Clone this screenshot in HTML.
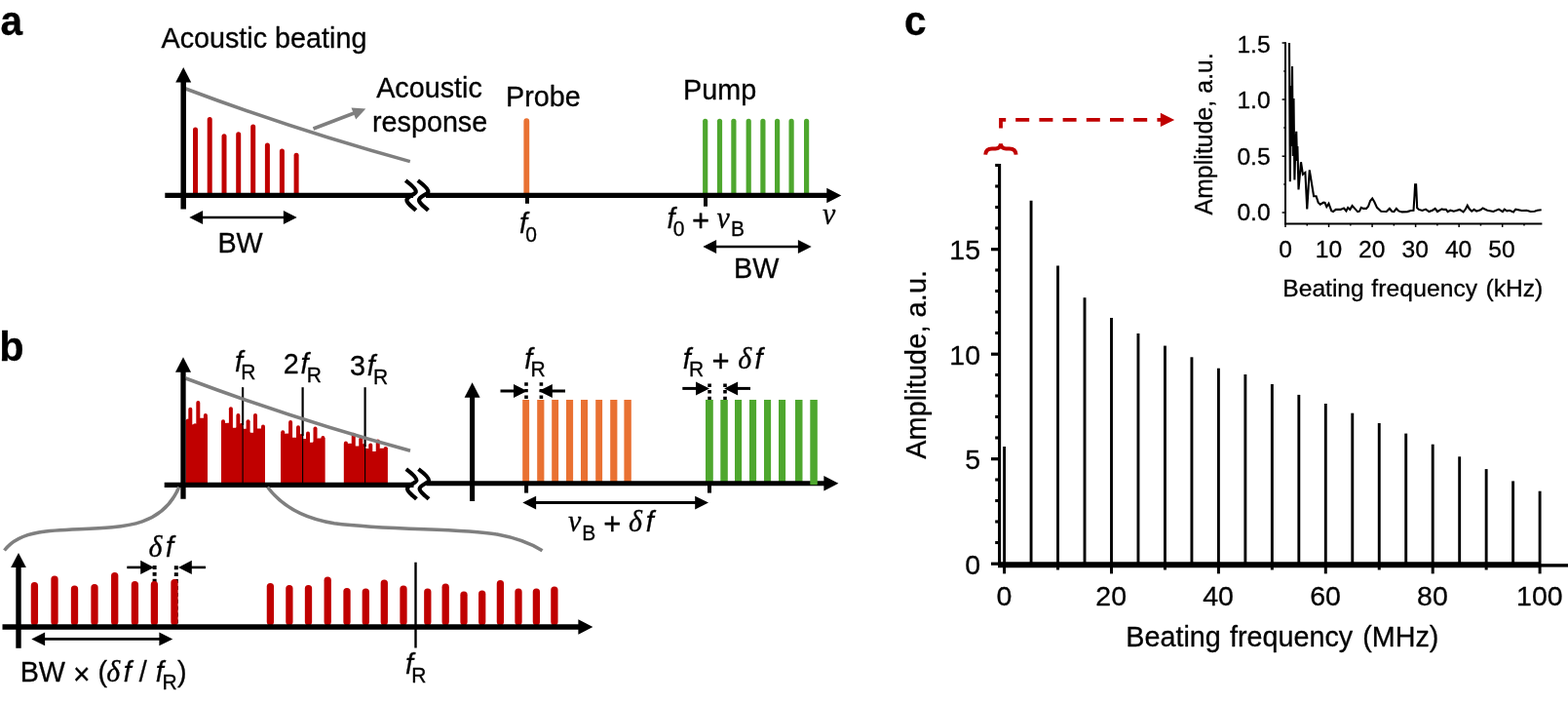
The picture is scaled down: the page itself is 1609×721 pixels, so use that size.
<!DOCTYPE html>
<html lang="en"><head><meta charset="utf-8"><title>Figure</title>
<style>html,body{margin:0;padding:0;background:#fff}body{width:1609px;height:721px;overflow:hidden}svg{display:block}text{font-family:'Liberation Sans', sans-serif;fill:#000;stroke:#000;stroke-width:.3px;stroke-linejoin:round}.s{font-family:'Liberation Serif', serif;font-style:italic}.i{font-style:italic}</style>
</head><body>
<svg width="1609" height="721" viewBox="0 0 1609 721">
<rect width="1609" height="721" fill="#fff"/>
<g id="panel-a">
<text transform="translate(0.5 36.3) scale(1 1.03)" font-size="40.5" text-anchor="start" font-weight="bold">a</text>
<text transform="translate(165.5 49) scale(1 1.03)" font-size="28.75" text-anchor="start" font-weight="normal">Acoustic beating</text>
<path d="M198 199V133.1A2.5 2.5 0 0 1 203 133.1V199Z" fill="#C00000"/>
<path d="M212.7 199V122.4A2.5 2.5 0 0 1 217.7 122.4V199Z" fill="#C00000"/>
<path d="M227.5 199V139.8A2.5 2.5 0 0 1 232.5 139.8V199Z" fill="#C00000"/>
<path d="M242.2 199V137.8A2.5 2.5 0 0 1 247.2 137.8V199Z" fill="#C00000"/>
<path d="M257.2 199V130.1A2.5 2.5 0 0 1 262.2 130.1V199Z" fill="#C00000"/>
<path d="M271.9 199V149.1A2.5 2.5 0 0 1 276.9 149.1V199Z" fill="#C00000"/>
<path d="M286.9 199V155A2.5 2.5 0 0 1 291.9 155V199Z" fill="#C00000"/>
<path d="M301.6 199V159.2A2.5 2.5 0 0 1 306.6 159.2V199Z" fill="#C00000"/>
<path d="M537.4 199V124.2A2.9 2.9 0 0 1 543.2 124.2V199Z" fill="#E97132"/>
<path d="M721.1 199V124.3A2.6 2.6 0 0 1 726.3 124.3V199Z" fill="#4EA72E"/>
<path d="M735.9 199V124.3A2.6 2.6 0 0 1 741.1 124.3V199Z" fill="#4EA72E"/>
<path d="M750.3 199V124.3A2.6 2.6 0 0 1 755.5 124.3V199Z" fill="#4EA72E"/>
<path d="M765.6 199V124.3A2.6 2.6 0 0 1 770.8 124.3V199Z" fill="#4EA72E"/>
<path d="M780.3 199V124.3A2.6 2.6 0 0 1 785.5 124.3V199Z" fill="#4EA72E"/>
<path d="M795 199V124.3A2.6 2.6 0 0 1 800.2 124.3V199Z" fill="#4EA72E"/>
<path d="M809.5 199V124.3A2.6 2.6 0 0 1 814.7 124.3V199Z" fill="#4EA72E"/>
<path d="M825 199V124.3A2.6 2.6 0 0 1 830.2 124.3V199Z" fill="#4EA72E"/>
<path d="M190.5 91Q305.7 134.3 420.8 165.6" fill="none" stroke="#7F7F7F" stroke-width="3.5" stroke-linecap="butt" stroke-linejoin="round"/>
<line x1="321.5" y1="132" x2="366" y2="115" stroke="#7F7F7F" stroke-width="3.5" stroke-linecap="butt"/>
<polygon points="375.3,111.4 360.5,110.6 365.2,122.6" fill="#7F7F7F"/>
<line x1="169.3" y1="200.4" x2="424" y2="200.4" stroke="#000" stroke-width="5.3" stroke-linecap="butt"/>
<line x1="437" y1="200.4" x2="849.3" y2="200.4" stroke="#000" stroke-width="5.2" stroke-linecap="butt"/>
<polygon points="863.3,200.4 848.3,192.65 848.3,208.15" fill="#000"/>
<path d="M416.2 185.1C423.2 190.4 427.2 194.4 426.8 196.8C426.2 199.4 417.7 201.4 417.4 205C417.2 208.4 422.2 211.4 426.8 215.7" fill="none" stroke="#000" stroke-width="4.2" stroke-linecap="butt" stroke-linejoin="round"/>
<path d="M428.8 185.1C435.8 190.4 439.8 194.4 439.4 196.8C438.8 199.4 430.3 201.4 430 205C429.8 208.4 434.8 211.4 439.4 215.7" fill="none" stroke="#000" stroke-width="4.2" stroke-linecap="butt" stroke-linejoin="round"/>
<line x1="188.2" y1="83.5" x2="188.2" y2="214.5" stroke="#000" stroke-width="5.5" stroke-linecap="butt"/>
<polygon points="188.2,69 180.2,84.5 196.2,84.5" fill="#000"/>
<line x1="541" y1="200" x2="541" y2="208.8" stroke="#000" stroke-width="4" stroke-linecap="butt"/>
<line x1="724" y1="200" x2="724" y2="211.7" stroke="#000" stroke-width="4" stroke-linecap="butt"/>
<line x1="207.1" y1="223" x2="291.9" y2="223" stroke="#000" stroke-width="2.6" stroke-linecap="butt"/>
<polygon points="194.3,223 208.1,216.1 208.1,229.9" fill="#000"/>
<polygon points="304.7,223 290.9,216.1 290.9,229.9" fill="#000"/>
<text transform="translate(223.4 259) scale(1 1.03)" font-size="28.75" text-anchor="start" font-weight="normal">BW</text>
<line x1="734.1" y1="253" x2="819.9" y2="253" stroke="#000" stroke-width="2.6" stroke-linecap="butt"/>
<polygon points="721.3,253 735.1,246.1 735.1,259.9" fill="#000"/>
<polygon points="832.7,253 818.9,246.1 818.9,259.9" fill="#000"/>
<text transform="translate(753.1 284.5) scale(1 1.03)" font-size="28.75" text-anchor="start" font-weight="normal">BW</text>
<text transform="translate(386.2 100) scale(1 1.03)" font-size="28.75" text-anchor="start" font-weight="normal">Acoustic</text>
<text transform="translate(382 134.5) scale(1 1.03)" font-size="28.75" text-anchor="start" font-weight="normal">response</text>
<text transform="translate(519 109) scale(1 1.03)" font-size="28.75" text-anchor="start" font-weight="normal">Probe</text>
<text transform="translate(701.1 102) scale(1 1.03)" font-size="28.75" text-anchor="start" font-weight="normal">Pump</text>
<text transform="translate(533 239) scale(1 1.03)" font-size="28.75" text-anchor="start"><tspan font-style="italic" dx="0">f</tspan><tspan font-size="21" dy="8.3" dx="-1.8">0</tspan></text>
<text transform="translate(684.6 234) scale(1 1.03)" font-size="28.75"><tspan class="i">f</tspan><tspan font-size="21" dy="7.6" dx="-1.8">0</tspan><tspan dy="-5" dx="7.5" font-size="31">+</tspan><tspan class="s" dx="7.5" dy="-2.6" font-size="30">ν</tspan><tspan font-size="21" dy="7.6" dx="1">B</tspan></text>
<text transform="translate(844 229.8) scale(1 1.03)" font-size="30" class="s">ν</text>
</g>
<g id="panel-b">
<text transform="translate(-0.8 370) scale(1 1.03)" font-size="41.5" text-anchor="start" font-weight="bold">b</text>
<polygon points="190.6,497.3 190.6,431 194,431 196.5,435.6 201.5,435 205,428.8 209,428.8 212.9,428 212.9,497.3" fill="#C00000"/>
<path d="M190.8 497.3V431.4A2 2 0 0 1 194.8 431.4V497.3Z" fill="#C00000"/>
<path d="M193.3 497.3V419.8A2 2 0 0 1 197.3 419.8V497.3Z" fill="#C00000"/>
<path d="M198.1 497.3V436.2A2 2 0 0 1 202.1 436.2V497.3Z" fill="#C00000"/>
<path d="M201.3 497.3V413A2 2 0 0 1 205.3 413V497.3Z" fill="#C00000"/>
<path d="M208.9 497.3V426A2 2 0 0 1 212.9 426V497.3Z" fill="#C00000"/>
<polygon points="227,497.3 227,434 235,433.75 238.5,438.75 242,438.75 246,436 249,437 250,439.7 253,439.7 257,443.75 260,443.75 264,439.4 268.5,439.4 272,438 272,497.3" fill="#C00000"/>
<path d="M227 497.3V432.3A2 2 0 0 1 231 432.3V497.3Z" fill="#C00000"/>
<path d="M234.9 497.3V419.2A2 2 0 0 1 238.9 419.2V497.3Z" fill="#C00000"/>
<path d="M242.4 497.3V426A2 2 0 0 1 246.4 426V497.3Z" fill="#C00000"/>
<path d="M245.6 497.3V436A2 2 0 0 1 249.6 436V497.3Z" fill="#C00000"/>
<path d="M252.6 497.3V432.3A2 2 0 0 1 256.6 432.3V497.3Z" fill="#C00000"/>
<path d="M260 497.3V426A2 2 0 0 1 264 426V497.3Z" fill="#C00000"/>
<path d="M268 497.3V437.6A2 2 0 0 1 272 437.6V497.3Z" fill="#C00000"/>
<polygon points="288.2,497.3 288.2,445 296.2,444.4 300,448.75 304,448.75 308,447 311,450 314,450 318,453.75 321,453.75 325.6,449.4 329.4,449.4 333.4,449 333.4,497.3" fill="#C00000"/>
<path d="M288.2 497.3V443.2A2 2 0 0 1 292.2 443.2V497.3Z" fill="#C00000"/>
<path d="M296.1 497.3V433A2 2 0 0 1 300.1 433V497.3Z" fill="#C00000"/>
<path d="M304 497.3V438.25A2 2 0 0 1 308 438.25V497.3Z" fill="#C00000"/>
<path d="M307.2 497.3V447A2 2 0 0 1 311.2 447V497.3Z" fill="#C00000"/>
<path d="M314 497.3V444.5A2 2 0 0 1 318 444.5V497.3Z" fill="#C00000"/>
<path d="M321.5 497.3V439.5A2 2 0 0 1 325.5 439.5V497.3Z" fill="#C00000"/>
<path d="M329.4 497.3V448.9A2 2 0 0 1 333.4 448.9V497.3Z" fill="#C00000"/>
<polygon points="352.9,497.3 352.9,455 360.5,454.75 364.5,457.5 368,457.5 372,457 375.5,460 378,460 382,463.1 385.5,463.1 390,459.75 394,459.75 397.7,459 397.7,497.3" fill="#C00000"/>
<path d="M352.9 497.3V454.5A2 2 0 0 1 356.9 454.5V497.3Z" fill="#C00000"/>
<path d="M360.75 497.3V445.75A2 2 0 0 1 364.75 445.75V497.3Z" fill="#C00000"/>
<path d="M368.25 497.3V450.5A2 2 0 0 1 372.25 450.5V497.3Z" fill="#C00000"/>
<path d="M371.3 497.3V457A2 2 0 0 1 375.3 457V497.3Z" fill="#C00000"/>
<path d="M378.25 497.3V456.4A2 2 0 0 1 382.25 456.4V497.3Z" fill="#C00000"/>
<path d="M385.75 497.3V452.4A2 2 0 0 1 389.75 452.4V497.3Z" fill="#C00000"/>
<path d="M393.7 497.3V460.1A2 2 0 0 1 397.7 460.1V497.3Z" fill="#C00000"/>
<line x1="249.1" y1="397.2" x2="249.1" y2="436" stroke="#000" stroke-width="2.2" stroke-linecap="butt"/>
<line x1="249.1" y1="434" x2="249.1" y2="497.3" stroke="#000" stroke-width="1.1" stroke-linecap="butt"/>
<line x1="310.6" y1="397.2" x2="310.6" y2="447" stroke="#000" stroke-width="2.2" stroke-linecap="butt"/>
<line x1="310.6" y1="445" x2="310.6" y2="497.3" stroke="#000" stroke-width="1.1" stroke-linecap="butt"/>
<line x1="374.6" y1="397.2" x2="374.6" y2="458" stroke="#000" stroke-width="2.2" stroke-linecap="butt"/>
<line x1="374.6" y1="456" x2="374.6" y2="497.3" stroke="#000" stroke-width="1.1" stroke-linecap="butt"/>
<path d="M190.5 388Q305.7 431.2 421 462.2" fill="none" stroke="#7F7F7F" stroke-width="3.5" stroke-linecap="butt" stroke-linejoin="round"/>
<rect x="536.2" y="410" width="6.9" height="84" fill="#E97132"/>
<rect x="551.2" y="410" width="7.2" height="84" fill="#E97132"/>
<rect x="566.2" y="410" width="6.9" height="84" fill="#E97132"/>
<rect x="581" y="410" width="7.1" height="84" fill="#E97132"/>
<rect x="596" y="410" width="7.1" height="84" fill="#E97132"/>
<rect x="611.2" y="410" width="6.9" height="84" fill="#E97132"/>
<rect x="626.2" y="410" width="7.2" height="84" fill="#E97132"/>
<rect x="640.4" y="410" width="7.4" height="84" fill="#E97132"/>
<rect x="724" y="410" width="7.8" height="84" fill="#4EA72E"/>
<rect x="739.3" y="410" width="7.5" height="84" fill="#4EA72E"/>
<rect x="754" y="410" width="7.1" height="84" fill="#4EA72E"/>
<rect x="769" y="410" width="7.1" height="84" fill="#4EA72E"/>
<rect x="784" y="410" width="7.1" height="84" fill="#4EA72E"/>
<rect x="799" y="410" width="7.1" height="84" fill="#4EA72E"/>
<rect x="816" y="410" width="7.5" height="84" fill="#4EA72E"/>
<line x1="168.7" y1="497.3" x2="424.5" y2="497.3" stroke="#000" stroke-width="5.3" stroke-linecap="butt"/>
<line x1="437.5" y1="495.7" x2="846.4" y2="495.7" stroke="#000" stroke-width="5" stroke-linecap="butt"/>
<polygon points="860.4,495.7 845.4,487.95 845.4,503.45" fill="#000"/>
<rect x="831.3" y="410" width="7.5" height="87.2" fill="#4EA72E"/>
<path d="M416.8 481.2C423.8 486.5 427.8 490.5 427.4 492.9C426.8 495.5 418.3 497.5 418 501.1C417.8 504.5 422.8 507.5 427.4 511.8" fill="none" stroke="#000" stroke-width="4.2" stroke-linecap="butt" stroke-linejoin="round"/>
<path d="M429.4 481.2C436.4 486.5 440.4 490.5 440 492.9C439.4 495.5 430.9 497.5 430.6 501.1C430.4 504.5 435.4 507.5 440 511.8" fill="none" stroke="#000" stroke-width="4.2" stroke-linecap="butt" stroke-linejoin="round"/>
<line x1="188" y1="380.7" x2="188" y2="511.7" stroke="#000" stroke-width="5.3" stroke-linecap="butt"/>
<polygon points="188,366.2 180,381.7 196,381.7" fill="#000"/>
<line x1="484.6" y1="406.8" x2="484.6" y2="514" stroke="#000" stroke-width="5.1" stroke-linecap="butt"/>
<polygon points="484.6,392.3 476.6,407.8 492.6,407.8" fill="#000"/>
<line x1="540.1" y1="495" x2="540.1" y2="505.6" stroke="#000" stroke-width="4" stroke-linecap="butt"/>
<line x1="728" y1="495" x2="728" y2="505.6" stroke="#000" stroke-width="4" stroke-linecap="butt"/>
<line x1="540" y1="392.3" x2="540" y2="409.5" stroke="#000" stroke-width="3.6" stroke-linecap="butt" stroke-dasharray="3.4 3.2"/>
<line x1="555.4" y1="392.3" x2="555.4" y2="409.5" stroke="#000" stroke-width="3.6" stroke-linecap="butt" stroke-dasharray="3.4 3.2"/>
<line x1="513.5" y1="401" x2="528" y2="401" stroke="#000" stroke-width="3" stroke-linecap="butt"/>
<polygon points="541,401 527,394 527,408" fill="#000"/>
<line x1="565.8" y1="401" x2="580" y2="401" stroke="#000" stroke-width="3" stroke-linecap="butt"/>
<polygon points="552.8,401 566.8,394 566.8,408" fill="#000"/>
<line x1="728.1" y1="393.5" x2="728.1" y2="410" stroke="#000" stroke-width="3.6" stroke-linecap="butt" stroke-dasharray="3.4 3.2"/>
<line x1="744" y1="393.5" x2="744" y2="410" stroke="#000" stroke-width="3.6" stroke-linecap="butt" stroke-dasharray="3.4 3.2"/>
<line x1="700.3" y1="398.4" x2="715" y2="398.4" stroke="#000" stroke-width="3" stroke-linecap="butt"/>
<polygon points="728,398.4 714,391.4 714,405.4" fill="#000"/>
<line x1="756.1" y1="398.4" x2="770" y2="398.4" stroke="#000" stroke-width="3" stroke-linecap="butt"/>
<polygon points="743.1,398.4 757.1,391.4 757.1,405.4" fill="#000"/>
<line x1="549.1" y1="515.6" x2="714.2" y2="515.6" stroke="#000" stroke-width="3" stroke-linecap="butt"/>
<polygon points="536.3,515.6 550.1,508.7 550.1,522.5" fill="#000"/>
<polygon points="727,515.6 713.2,508.7 713.2,522.5" fill="#000"/>
<text transform="translate(241 380.6) scale(1 1.03)" font-size="28.75" text-anchor="start"><tspan font-style="italic" dx="0">f</tspan><tspan font-size="21" dy="8.3" dx="-1.8">R</tspan></text>
<text transform="translate(290.7 382.7) scale(1 1.03)" font-size="28.75" text-anchor="start">2<tspan font-style="italic" dx="1.9">f</tspan><tspan font-size="21" dy="8.9" dx="-1.8">R</tspan></text>
<text transform="translate(358.9 384.5) scale(1 1.03)" font-size="28.75" text-anchor="start">3<tspan font-style="italic" dx="1.9">f</tspan><tspan font-size="21" dy="8.9" dx="-1.8">R</tspan></text>
<text transform="translate(538.2 377.9) scale(1 1.03)" font-size="28.75" text-anchor="start"><tspan font-style="italic" dx="0">f</tspan><tspan font-size="21" dy="8.1" dx="-1.8">R</tspan></text>
<text transform="translate(700.7 377.9) scale(1 1.03)" font-size="28.75"><tspan class="i">f</tspan><tspan font-size="21" dy="8.1" dx="-1.8">R</tspan><tspan dy="-5.5" dx="8.5" font-size="31">+</tspan><tspan class="s" dx="8.5" dy="-2.6" font-size="30">δ</tspan><tspan class="i" dx="3.5">f</tspan></text>
<text transform="translate(583 545.4) scale(1 1.03)" font-size="28.75"><tspan class="s" font-size="30">ν</tspan><tspan font-size="21" dy="8.3" dx="1">B</tspan><tspan dy="-5.7" dx="8" font-size="31">+</tspan><tspan class="s" dx="7.5" dy="-2.6" font-size="30">δ</tspan><tspan class="i" dx="4">f</tspan></text>
</g>
<g id="panel-b-zoom">
<path d="M183.7 499.5C176 518 164 528.6 146 534.8C116 545 70 541 40 546C22 549 11 556 4.5 564.5" fill="none" stroke="#7F7F7F" stroke-width="3.5" stroke-linecap="butt" stroke-linejoin="round"/>
<path d="M274.5 499.5C290 520 312.5 532 343 536.7C400 544 470 541.8 510 548C532 552 546 558 556.5 564.8" fill="none" stroke="#7F7F7F" stroke-width="3.5" stroke-linecap="butt" stroke-linejoin="round"/>
<line x1="158.6" y1="580" x2="158.6" y2="598" stroke="#000" stroke-width="4" stroke-linecap="butt" stroke-dasharray="3.9 3"/>
<line x1="180.8" y1="580.3" x2="180.8" y2="640" stroke="#000" stroke-width="4" stroke-linecap="butt" stroke-dasharray="3.9 3"/>
<rect x="31.75" y="597" width="7.3" height="44.5" rx="3.65" fill="#C00000"/>
<rect x="52.35" y="590.4" width="7.3" height="51.1" rx="3.65" fill="#C00000"/>
<rect x="72.85" y="600.4" width="7.3" height="41.1" rx="3.65" fill="#C00000"/>
<rect x="93.35" y="599.1" width="7.3" height="42.4" rx="3.65" fill="#C00000"/>
<rect x="114.05" y="586.9" width="7.3" height="54.6" rx="3.65" fill="#C00000"/>
<rect x="134.75" y="596.1" width="7.3" height="45.4" rx="3.65" fill="#C00000"/>
<rect x="154.75" y="596.1" width="7.3" height="45.4" rx="3.65" fill="#C00000"/>
<rect x="175.35" y="594.1" width="7.3" height="47.4" rx="3.65" fill="#C00000"/>
<rect x="273.75" y="597.9" width="7.3" height="43.6" rx="3.65" fill="#C00000"/>
<rect x="293.25" y="599.9" width="7.3" height="41.6" rx="3.65" fill="#C00000"/>
<rect x="312.85" y="599.9" width="7.3" height="41.6" rx="3.65" fill="#C00000"/>
<rect x="332.55" y="591.6" width="7.3" height="49.9" rx="3.65" fill="#C00000"/>
<rect x="352.35" y="602.9" width="7.3" height="38.6" rx="3.65" fill="#C00000"/>
<rect x="371.65" y="603.4" width="7.3" height="38.1" rx="3.65" fill="#C00000"/>
<rect x="390.65" y="594.4" width="7.3" height="47.1" rx="3.65" fill="#C00000"/>
<rect x="410.35" y="600.4" width="7.3" height="41.1" rx="3.65" fill="#C00000"/>
<rect x="435.15" y="603.4" width="7.3" height="38.1" rx="3.65" fill="#C00000"/>
<rect x="453.55" y="598.6" width="7.3" height="42.9" rx="3.65" fill="#C00000"/>
<rect x="472.35" y="606.6" width="7.3" height="34.9" rx="3.65" fill="#C00000"/>
<rect x="491.05" y="605.6" width="7.3" height="35.9" rx="3.65" fill="#C00000"/>
<rect x="509.75" y="595.1" width="7.3" height="46.4" rx="3.65" fill="#C00000"/>
<rect x="528.35" y="603.4" width="7.3" height="38.1" rx="3.65" fill="#C00000"/>
<rect x="546.75" y="603.4" width="7.3" height="38.1" rx="3.65" fill="#C00000"/>
<rect x="565.25" y="601.4" width="7.3" height="40.1" rx="3.65" fill="#C00000"/>
<line x1="2.5" y1="643" x2="594.4" y2="643" stroke="#000" stroke-width="5.3" stroke-linecap="butt"/>
<polygon points="608.4,643 593.4,635.25 593.4,650.75" fill="#000"/>
<line x1="19" y1="581" x2="19" y2="664.8" stroke="#000" stroke-width="5.4" stroke-linecap="butt"/>
<polygon points="19,567 11.15,582 26.85,582" fill="#000"/>
<line x1="426.5" y1="576.7" x2="426.5" y2="664.5" stroke="#000" stroke-width="2.4" stroke-linecap="butt"/>
<line x1="130.3" y1="581.9" x2="145.2" y2="581.9" stroke="#000" stroke-width="2.6" stroke-linecap="butt"/>
<polygon points="158,581.9 144.2,574.8 144.2,589" fill="#000"/>
<line x1="195.8" y1="581.9" x2="211" y2="581.9" stroke="#000" stroke-width="2.6" stroke-linecap="butt"/>
<polygon points="183,581.9 196.8,574.8 196.8,589" fill="#000"/>
<line x1="45.1" y1="655.4" x2="164.4" y2="655.4" stroke="#000" stroke-width="2.8" stroke-linecap="butt"/>
<polygon points="32.3,655.4 46.1,648.5 46.1,662.3" fill="#000"/>
<polygon points="177.2,655.4 163.4,648.5 163.4,662.3" fill="#000"/>
<text transform="translate(152.5 570.8) scale(1 1.03)" font-size="28.75"><tspan class="s" font-size="30">δ</tspan><tspan class="i" dx="3.5">f</tspan></text>
<text transform="translate(20.7 699) scale(1 1.03)" font-size="28.75">BW <tspan dy="2.6" font-size="30">×</tspan><tspan dy="-2.6"> (</tspan><tspan class="s" font-size="30" dx="-0.8">δ</tspan><tspan class="i" dx="3.5">f</tspan> / <tspan class="i" dx="1">f</tspan><tspan font-size="21" dy="7.4" dx="-1.2">R</tspan><tspan dy="-7.4" dx="0.4">)</tspan></text>
<text transform="translate(416 691) scale(1 1.03)" font-size="28.75" text-anchor="start"><tspan font-style="italic" dx="0">f</tspan><tspan font-size="21" dy="8.7" dx="-1.8">R</tspan></text>
</g>
<g id="panel-c">
<text transform="translate(927.9 36.1) scale(1 1.03)" font-size="40.5" text-anchor="start" font-weight="bold">c</text>
<line x1="1030.6" y1="458" x2="1030.6" y2="579" stroke="#000" stroke-width="2.9" stroke-linecap="butt"/>
<line x1="1058.07" y1="205.7" x2="1058.07" y2="579" stroke="#000" stroke-width="2.9" stroke-linecap="butt"/>
<line x1="1085.55" y1="272.4" x2="1085.55" y2="579" stroke="#000" stroke-width="2.9" stroke-linecap="butt"/>
<line x1="1113.02" y1="305.3" x2="1113.02" y2="579" stroke="#000" stroke-width="2.9" stroke-linecap="butt"/>
<line x1="1140.5" y1="326" x2="1140.5" y2="579" stroke="#000" stroke-width="2.9" stroke-linecap="butt"/>
<line x1="1167.97" y1="342" x2="1167.97" y2="579" stroke="#000" stroke-width="2.9" stroke-linecap="butt"/>
<line x1="1195.45" y1="354.6" x2="1195.45" y2="579" stroke="#000" stroke-width="2.9" stroke-linecap="butt"/>
<line x1="1222.92" y1="366.3" x2="1222.92" y2="579" stroke="#000" stroke-width="2.9" stroke-linecap="butt"/>
<line x1="1250.4" y1="377.7" x2="1250.4" y2="579" stroke="#000" stroke-width="2.9" stroke-linecap="butt"/>
<line x1="1277.88" y1="384" x2="1277.88" y2="579" stroke="#000" stroke-width="2.9" stroke-linecap="butt"/>
<line x1="1305.35" y1="394" x2="1305.35" y2="579" stroke="#000" stroke-width="2.9" stroke-linecap="butt"/>
<line x1="1332.82" y1="404.9" x2="1332.82" y2="579" stroke="#000" stroke-width="2.9" stroke-linecap="butt"/>
<line x1="1360.3" y1="414" x2="1360.3" y2="579" stroke="#000" stroke-width="2.9" stroke-linecap="butt"/>
<line x1="1387.77" y1="423.7" x2="1387.77" y2="579" stroke="#000" stroke-width="2.9" stroke-linecap="butt"/>
<line x1="1415.25" y1="434" x2="1415.25" y2="579" stroke="#000" stroke-width="2.9" stroke-linecap="butt"/>
<line x1="1442.72" y1="444.6" x2="1442.72" y2="579" stroke="#000" stroke-width="2.9" stroke-linecap="butt"/>
<line x1="1470.2" y1="455.7" x2="1470.2" y2="579" stroke="#000" stroke-width="2.9" stroke-linecap="butt"/>
<line x1="1497.67" y1="468.3" x2="1497.67" y2="579" stroke="#000" stroke-width="2.9" stroke-linecap="butt"/>
<line x1="1525.15" y1="481.1" x2="1525.15" y2="579" stroke="#000" stroke-width="2.9" stroke-linecap="butt"/>
<line x1="1552.62" y1="493.4" x2="1552.62" y2="579" stroke="#000" stroke-width="2.9" stroke-linecap="butt"/>
<line x1="1580.1" y1="503.7" x2="1580.1" y2="579" stroke="#000" stroke-width="2.9" stroke-linecap="butt"/>
<line x1="1025.6" y1="168" x2="1025.6" y2="581.8" stroke="#000" stroke-width="3.1" stroke-linecap="butt"/>
<line x1="1024" y1="579.3" x2="1580.5" y2="579.3" stroke="#000" stroke-width="5.9" stroke-linecap="butt"/>
<line x1="1580" y1="579.9" x2="1609" y2="579.9" stroke="#000" stroke-width="3.4" stroke-linecap="butt"/>
<line x1="1017" y1="578.2" x2="1025" y2="578.2" stroke="#000" stroke-width="3.2" stroke-linecap="butt"/>
<line x1="1021.2" y1="556.5" x2="1025" y2="556.5" stroke="#000" stroke-width="3.1" stroke-linecap="butt"/>
<line x1="1021.2" y1="535" x2="1025" y2="535" stroke="#000" stroke-width="3.1" stroke-linecap="butt"/>
<line x1="1021.2" y1="513.5" x2="1025" y2="513.5" stroke="#000" stroke-width="3.1" stroke-linecap="butt"/>
<line x1="1021.2" y1="492" x2="1025" y2="492" stroke="#000" stroke-width="3.1" stroke-linecap="butt"/>
<line x1="1017" y1="470.7" x2="1025" y2="470.7" stroke="#000" stroke-width="3.2" stroke-linecap="butt"/>
<line x1="1021.2" y1="449" x2="1025" y2="449" stroke="#000" stroke-width="3.1" stroke-linecap="butt"/>
<line x1="1021.2" y1="427.5" x2="1025" y2="427.5" stroke="#000" stroke-width="3.1" stroke-linecap="butt"/>
<line x1="1021.2" y1="406" x2="1025" y2="406" stroke="#000" stroke-width="3.1" stroke-linecap="butt"/>
<line x1="1021.2" y1="384.5" x2="1025" y2="384.5" stroke="#000" stroke-width="3.1" stroke-linecap="butt"/>
<line x1="1017" y1="363.2" x2="1025" y2="363.2" stroke="#000" stroke-width="3.2" stroke-linecap="butt"/>
<line x1="1021.2" y1="341.5" x2="1025" y2="341.5" stroke="#000" stroke-width="3.1" stroke-linecap="butt"/>
<line x1="1021.2" y1="320" x2="1025" y2="320" stroke="#000" stroke-width="3.1" stroke-linecap="butt"/>
<line x1="1021.2" y1="298.5" x2="1025" y2="298.5" stroke="#000" stroke-width="3.1" stroke-linecap="butt"/>
<line x1="1021.2" y1="277" x2="1025" y2="277" stroke="#000" stroke-width="3.1" stroke-linecap="butt"/>
<line x1="1017" y1="255.7" x2="1025" y2="255.7" stroke="#000" stroke-width="3.2" stroke-linecap="butt"/>
<line x1="1021.2" y1="234" x2="1025" y2="234" stroke="#000" stroke-width="3.1" stroke-linecap="butt"/>
<line x1="1021.2" y1="212.5" x2="1025" y2="212.5" stroke="#000" stroke-width="3.1" stroke-linecap="butt"/>
<line x1="1021.2" y1="191" x2="1025" y2="191" stroke="#000" stroke-width="3.1" stroke-linecap="butt"/>
<line x1="1021.2" y1="169.5" x2="1025" y2="169.5" stroke="#000" stroke-width="3.1" stroke-linecap="butt"/>
<line x1="1030.6" y1="579" x2="1030.6" y2="588.4" stroke="#000" stroke-width="3" stroke-linecap="butt"/>
<line x1="1085.55" y1="579" x2="1085.55" y2="584.5" stroke="#000" stroke-width="3" stroke-linecap="butt"/>
<line x1="1140.5" y1="579" x2="1140.5" y2="588.4" stroke="#000" stroke-width="3" stroke-linecap="butt"/>
<line x1="1195.45" y1="579" x2="1195.45" y2="584.5" stroke="#000" stroke-width="3" stroke-linecap="butt"/>
<line x1="1250.4" y1="579" x2="1250.4" y2="588.4" stroke="#000" stroke-width="3" stroke-linecap="butt"/>
<line x1="1305.35" y1="579" x2="1305.35" y2="584.5" stroke="#000" stroke-width="3" stroke-linecap="butt"/>
<line x1="1360.3" y1="579" x2="1360.3" y2="588.4" stroke="#000" stroke-width="3" stroke-linecap="butt"/>
<line x1="1415.25" y1="579" x2="1415.25" y2="584.5" stroke="#000" stroke-width="3" stroke-linecap="butt"/>
<line x1="1470.2" y1="579" x2="1470.2" y2="588.4" stroke="#000" stroke-width="3" stroke-linecap="butt"/>
<line x1="1525.15" y1="579" x2="1525.15" y2="584.5" stroke="#000" stroke-width="3" stroke-linecap="butt"/>
<line x1="1580.1" y1="579" x2="1580.1" y2="588.4" stroke="#000" stroke-width="3" stroke-linecap="butt"/>
<text transform="translate(1006 588.7) scale(1 0.99)" font-size="28.5" text-anchor="end" font-weight="normal">0</text>
<text transform="translate(1006 481.2) scale(1 0.99)" font-size="28.5" text-anchor="end" font-weight="normal">5</text>
<text transform="translate(1006 373.7) scale(1 0.99)" font-size="28.5" text-anchor="end" font-weight="normal">10</text>
<text transform="translate(1006 266.2) scale(1 0.99)" font-size="28.5" text-anchor="end" font-weight="normal">15</text>
<text transform="translate(1030.3 620.8) scale(1 0.99)" font-size="28.5" text-anchor="middle" font-weight="normal">0</text>
<text transform="translate(1140.2 620.8) scale(1 0.99)" font-size="28.5" text-anchor="middle" font-weight="normal">20</text>
<text transform="translate(1250.1 620.8) scale(1 0.99)" font-size="28.5" text-anchor="middle" font-weight="normal">40</text>
<text transform="translate(1360 620.8) scale(1 0.99)" font-size="28.5" text-anchor="middle" font-weight="normal">60</text>
<text transform="translate(1469.9 620.8) scale(1 0.99)" font-size="28.5" text-anchor="middle" font-weight="normal">80</text>
<text transform="translate(1579.8 620.8) scale(1 0.99)" font-size="28.5" text-anchor="middle" font-weight="normal">100</text>
<text transform="translate(1155.3 662.9) scale(1 1.03)" font-size="28.75" text-anchor="start" font-weight="normal">Beating <tspan dx="1.2">frequency</tspan> <tspan dx="2.06">(MHz)</tspan></text>
<text transform="translate(949.9 470.7) rotate(-90) scale(1 1.03)" font-size="28.75" textLength="193.7" lengthAdjust="spacing">Amplitude, a.u.</text>
<path d="M1027 131.5V122.9H1032.2" fill="none" stroke="#C00000" stroke-width="3.8"/>
<line x1="1042.2" y1="122.9" x2="1191" y2="122.9" stroke="#C00000" stroke-width="3.8" stroke-linecap="butt" stroke-dasharray="14 10.2"/>
<polygon points="1205.2,122.9 1190.8,115.8 1190.8,130" fill="#C00000"/>
<path d="M1011.2 158.6C1011.5 154 1014 152.5 1018 152.5L1021.5 152.5C1024.5 152.5 1026.2 151.3 1026.9 147.6C1027.6 151.3 1029.3 152.5 1032.3 152.5L1035.8 152.5C1039.8 152.5 1042.3 154 1042.6 158.6" fill="none" stroke="#C00000" stroke-width="3.9" stroke-linecap="butt" stroke-linejoin="miter"/>
<line x1="1319" y1="43.2" x2="1319" y2="230.4" stroke="#000" stroke-width="2" stroke-linecap="butt"/>
<line x1="1318" y1="229.5" x2="1582.4" y2="229.5" stroke="#000" stroke-width="1.8" stroke-linecap="butt"/>
<line x1="1315.6" y1="44" x2="1319" y2="44" stroke="#000" stroke-width="1.5" stroke-linecap="butt"/>
<line x1="1317.2" y1="73" x2="1319" y2="73" stroke="#000" stroke-width="1.5" stroke-linecap="butt"/>
<line x1="1315.6" y1="102" x2="1319" y2="102" stroke="#000" stroke-width="1.5" stroke-linecap="butt"/>
<line x1="1317.2" y1="131" x2="1319" y2="131" stroke="#000" stroke-width="1.5" stroke-linecap="butt"/>
<line x1="1315.6" y1="160.2" x2="1319" y2="160.2" stroke="#000" stroke-width="1.5" stroke-linecap="butt"/>
<line x1="1317.2" y1="189" x2="1319" y2="189" stroke="#000" stroke-width="1.5" stroke-linecap="butt"/>
<line x1="1315.6" y1="218" x2="1319" y2="218" stroke="#000" stroke-width="1.5" stroke-linecap="butt"/>
<line x1="1319" y1="229.5" x2="1319" y2="233" stroke="#000" stroke-width="1.5" stroke-linecap="butt"/>
<line x1="1341.27" y1="229.5" x2="1341.27" y2="231.6" stroke="#000" stroke-width="1.5" stroke-linecap="butt"/>
<line x1="1363.54" y1="229.5" x2="1363.54" y2="233" stroke="#000" stroke-width="1.5" stroke-linecap="butt"/>
<line x1="1385.81" y1="229.5" x2="1385.81" y2="231.6" stroke="#000" stroke-width="1.5" stroke-linecap="butt"/>
<line x1="1408.08" y1="229.5" x2="1408.08" y2="233" stroke="#000" stroke-width="1.5" stroke-linecap="butt"/>
<line x1="1430.35" y1="229.5" x2="1430.35" y2="231.6" stroke="#000" stroke-width="1.5" stroke-linecap="butt"/>
<line x1="1452.62" y1="229.5" x2="1452.62" y2="233" stroke="#000" stroke-width="1.5" stroke-linecap="butt"/>
<line x1="1474.89" y1="229.5" x2="1474.89" y2="231.6" stroke="#000" stroke-width="1.5" stroke-linecap="butt"/>
<line x1="1497.16" y1="229.5" x2="1497.16" y2="233" stroke="#000" stroke-width="1.5" stroke-linecap="butt"/>
<line x1="1519.43" y1="229.5" x2="1519.43" y2="231.6" stroke="#000" stroke-width="1.5" stroke-linecap="butt"/>
<line x1="1541.7" y1="229.5" x2="1541.7" y2="233" stroke="#000" stroke-width="1.5" stroke-linecap="butt"/>
<line x1="1563.97" y1="229.5" x2="1563.97" y2="231.6" stroke="#000" stroke-width="1.5" stroke-linecap="butt"/>
<polyline points="1323,44 1323.8,186.2 1324.6,88 1325.2,150 1326,68 1326.8,160 1327.5,101 1328.4,184.4 1329.3,150 1330.25,134.75 1331,165 1331.4,150 1332.5,194.4 1335,166.25 1336.9,178.75 1339.4,176.9 1341.25,214.4 1343.75,174.4 1348.1,201.25 1350.6,201.25 1352.7,207.7 1354.8,209.75 1358.2,207.7 1359.6,208 1361.3,212.1 1363.5,208.8 1366.3,216.3 1368,217.1 1370.7,214.9 1375.6,214.9 1379,213.5 1381.4,216.3 1383.2,212.9 1385.3,214.9 1387.6,211.1 1390.2,213.9 1393.2,217.1 1395,216.7 1396.8,212.9 1399,213.9 1402,213.9 1404,211.8 1406.1,206 1408.2,203.5 1410.3,207 1413,212.9 1417.2,216.7 1422.7,217 1425.9,213.9 1428.3,216.7 1430.4,217.1 1432.9,213.9 1435.2,216.4 1438.7,217.4 1444.2,217.1 1447.7,216 1450.5,215.7 1451.5,200.7 1452.1,189.4 1453.1,189.4 1454.2,213.2 1456,214.9 1459.5,216 1463,214.6 1466.4,217 1469.9,215.7 1472.7,213.9 1475,217 1479.6,214.3 1481.1,214.9 1483.8,214.9 1485.6,217.1 1488.3,215.7 1491.8,216.7 1497.8,214.9 1501.6,217.4 1504,214.3 1505.8,210.7 1507.8,214.3 1510.2,216.7 1512.7,214.9 1515.1,216.7 1519.3,215.3 1521.6,213.5 1526.2,215.7 1532.4,217 1538,214.6 1541.9,217.1 1543.8,214.6 1546.3,216.3 1549,215.8 1553,217.4 1555.3,214.6 1561.6,216 1566.4,215.7 1570.6,217 1574.7,216.7 1577.5,215.7 1581.7,215.3" fill="none" stroke="#000" stroke-width="2.1" stroke-linejoin="miter" stroke-miterlimit="3"/>
<text transform="translate(1303.6 54.1) scale(1 0.985)" font-size="24.6" text-anchor="end" font-weight="normal">1.5</text>
<text transform="translate(1303.6 111.2) scale(1 0.985)" font-size="24.6" text-anchor="end" font-weight="normal">1.0</text>
<text transform="translate(1303.6 168.6) scale(1 0.985)" font-size="24.6" text-anchor="end" font-weight="normal">0.5</text>
<text transform="translate(1303.6 225.9) scale(1 0.985)" font-size="24.6" text-anchor="end" font-weight="normal">0.0</text>
<text transform="translate(1319 264.3) scale(1 0.985)" font-size="24.6" text-anchor="middle" font-weight="normal">0</text>
<text transform="translate(1363.4 264.3) scale(1 0.985)" font-size="24.6" text-anchor="middle" font-weight="normal">10</text>
<text transform="translate(1407.8 264.3) scale(1 0.985)" font-size="24.6" text-anchor="middle" font-weight="normal">20</text>
<text transform="translate(1452.2 264.3) scale(1 0.985)" font-size="24.6" text-anchor="middle" font-weight="normal">30</text>
<text transform="translate(1496.6 264.3) scale(1 0.985)" font-size="24.6" text-anchor="middle" font-weight="normal">40</text>
<text transform="translate(1541 264.3) scale(1 0.985)" font-size="24.6" text-anchor="middle" font-weight="normal">50</text>
<text transform="translate(1316.3 303.9) scale(1 1.0)" font-size="24.6" text-anchor="start" font-weight="normal">Beating <tspan dx="0.8" letter-spacing="0.1">frequency</tspan> <tspan dx="1.4">(kHz)</tspan></text>
<text transform="translate(1244.3 220.4) rotate(-90) scale(1 1.03)" font-size="24.6" textLength="166.2" lengthAdjust="spacing">Amplitude, a.u.</text>
</g>
</svg></body></html>
